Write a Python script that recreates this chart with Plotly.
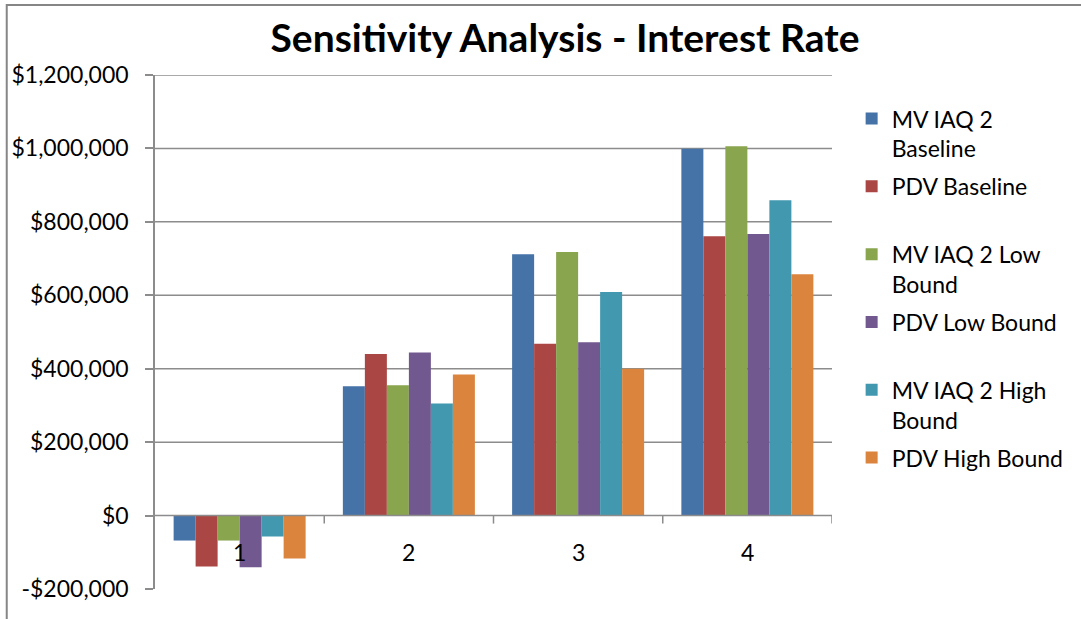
import plotly.graph_objects as go

categories = [1, 2, 3, 4]
category_labels = ["1", "2", "3", "4"]
series_names = ["MV IAQ 2<br>Baseline", "PDV Baseline", "MV IAQ 2 Low<br>Bound",
                "PDV Low Bound", "MV IAQ 2 High<br>Bound", "PDV High Bound"]
mv_baseline = [-68000, 352000, 712000, 999000]
pdv_baseline = [-139000, 440000, 468000, 761000]
mv_low = [-68000, 355000, 718000, 1006000]
pdv_low = [-141000, 444000, 472000, 767000]
mv_high = [-57000, 305000, 609000, 859000]
pdv_high = [-117000, 384000, 400000, 657000]
series_values = [mv_baseline, pdv_baseline, mv_low, pdv_low, mv_high, pdv_high]
colors = ["#4572A7", "#AA4643", "#89A54E", "#71588F", "#4198AF", "#DB843D"]
tick_values = [-200000, 0, 200000, 400000, 600000, 800000, 1000000, 1200000]
tick_text = ["-$200,000", "$0", "$200,000", "$400,000", "$600,000", "$800,000",
             "$1,000,000", "$1,200,000"]

FONT = "Lato"
GRID = "#8c8c8c"

fig = go.Figure()
for i, (name, vals, col) in enumerate(zip(series_names, series_values, colors)):
    label = name if "<br>" in name else name + "<br> "
    fig.add_trace(go.Bar(x=categories, y=vals, name=label, marker_color=col,
                         marker_line_width=0, legendgroup=str(i)))

shapes = []
# gridlines (non-negative ticks)
for v in tick_values:
    if v > 0:
        shapes.append(dict(type="line", xref="paper", yref="y", x0=0, x1=1, y0=v, y1=v,
                           line=dict(color=GRID, width=1.5), layer="below"))
# zero axis line
shapes.append(dict(type="line", xref="paper", yref="y", x0=0, x1=1, y0=0, y1=0,
                   line=dict(color=GRID, width=1.5), layer="above"))
# category boundary ticks
for c in categories:
    shapes.append(dict(type="line", xref="x", yref="y", x0=c + 0.5, x1=c + 0.5,
                       ysizemode="pixel", yanchor=0, y0=0, y1=-8,
                       line=dict(color=GRID, width=1.5)))
# outer chart border
shapes.append(dict(type="rect", xref="paper", yref="paper", x0=-0.219, x1=1.4,
                   y0=-0.1, y1=1.136, line=dict(color="#868686", width=2),
                   fillcolor="rgba(0,0,0,0)"))

annotations = [dict(x=c, y=0, xref="x", yref="y", text=t, showarrow=False,
                    yanchor="top", yshift=-20, font=dict(family=FONT, size=23, color="black"))
               for c, t in zip(categories, category_labels)]

fig.update_layout(
    width=1081, height=619,
    margin=dict(l=155, r=246, t=75, b=30),
    paper_bgcolor="white", plot_bgcolor="white",
    title=dict(text="<b>Sensitivity Analysis - Interest Rate</b>", x=565 / 1081, xanchor="center",
               y=1 - 38 / 619, yanchor="middle", font=dict(family=FONT, size=39, color="black")),
    barmode="group", bargap=0.22, bargroupgap=0,
    showlegend=True,
    legend=dict(x=1.029, xanchor="left", y=0.957, yanchor="top", valign="top",
                font=dict(family=FONT, size=23, color="black"), tracegroupgap=5,
                bgcolor="rgba(0,0,0,0)"),
    xaxis=dict(range=[0.5, 4.5], showticklabels=False, showgrid=False, zeroline=False,
               showline=False, ticks="", fixedrange=True),
    yaxis=dict(range=[-200000, 1200000], tickvals=tick_values, ticktext=tick_text,
               showgrid=False, zeroline=False, showline=True, linecolor=GRID, linewidth=1.5,
               ticks="outside", ticklen=8, tickcolor=GRID, tickwidth=1.5,
               tickfont=dict(family=FONT, size=23, color="black"), ticklabelstandoff=12),
    shapes=shapes, annotations=annotations,
)

fig.write_html("out.html", config={"displayModeBar": False},
               post_script="document.body.style.margin='0px';")
